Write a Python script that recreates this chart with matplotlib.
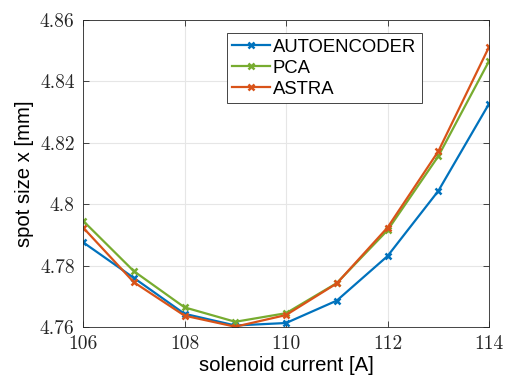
import numpy as np
import matplotlib
matplotlib.use('Agg')
import matplotlib.pyplot as plt

current = [106, 107, 108, 109, 110, 111, 112, 113, 114]
autoencoder = [4.7876, 4.7760, 4.7643, 4.7605, 4.7613, 4.7686, 4.7831, 4.8043, 4.8327]
pca = [4.7946, 4.7782, 4.7664, 4.7617, 4.7645, 4.7743, 4.7915, 4.8156, 4.8466]
astra = [4.7924, 4.7746, 4.7637, 4.7601, 4.7639, 4.7742, 4.7924, 4.8172, 4.8512]

series_names = ['AUTOENCODER', 'PCA', 'ASTRA']
colors = ['#0072BD', '#77AC30', '#D95319']

xticks = [106, 108, 110, 112, 114]
yticks = [4.76, 4.78, 4.80, 4.82, 4.84, 4.86]
ytick_labels = ['4.76', '4.78', '4.8', '4.82', '4.84', '4.86']

fig = plt.figure(figsize=(5.05, 3.9), dpi=100)
ax = fig.add_axes([0.1644, 0.1615, 0.804, 0.7875])

for vals, name, c in zip([autoencoder, pca, astra], series_names, colors):
    ax.plot(current, vals, color=c, linewidth=1.6, marker='x', markersize=5,
            markeredgewidth=1.8, label=name)

ax.set_xlim(106, 114)
ax.set_ylim(4.76, 4.86)
ax.set_xticks(xticks)
ax.set_yticks(yticks)
ax.set_xticklabels([str(t) for t in xticks], fontname='cmr10', fontsize=14, color='#262626')
ax.set_yticklabels(ytick_labels, fontname='cmr10', fontsize=14, color='#262626')

ax.grid(True, color='#e6e6e6', linewidth=0.8)
ax.set_axisbelow(True)
for s in ax.spines.values():
    s.set_color('#262626')
    s.set_linewidth(0.6)
ax.tick_params(direction='in', top=True, right=True, length=4, width=0.6,
               color='#262626', pad=6)

ax.set_xlabel('solenoid current [A]', fontname='Liberation Sans', fontsize=14.6, labelpad=2)
ax.set_ylabel('spot size x [mm]', fontname='Liberation Sans', fontsize=14.6, labelpad=4)

leg = ax.legend(loc='upper left', bbox_to_anchor=(0.354, 0.957), prop={'family': 'Liberation Sans', 'size': 13.3},
                fancybox=False, framealpha=1, edgecolor='#262626', borderpad=0.3,
                labelspacing=0.22, handlelength=2.05, handletextpad=0.15, borderaxespad=0)
leg.get_frame().set_linewidth(0.6)

fig.savefig('out.png', dpi=100)
